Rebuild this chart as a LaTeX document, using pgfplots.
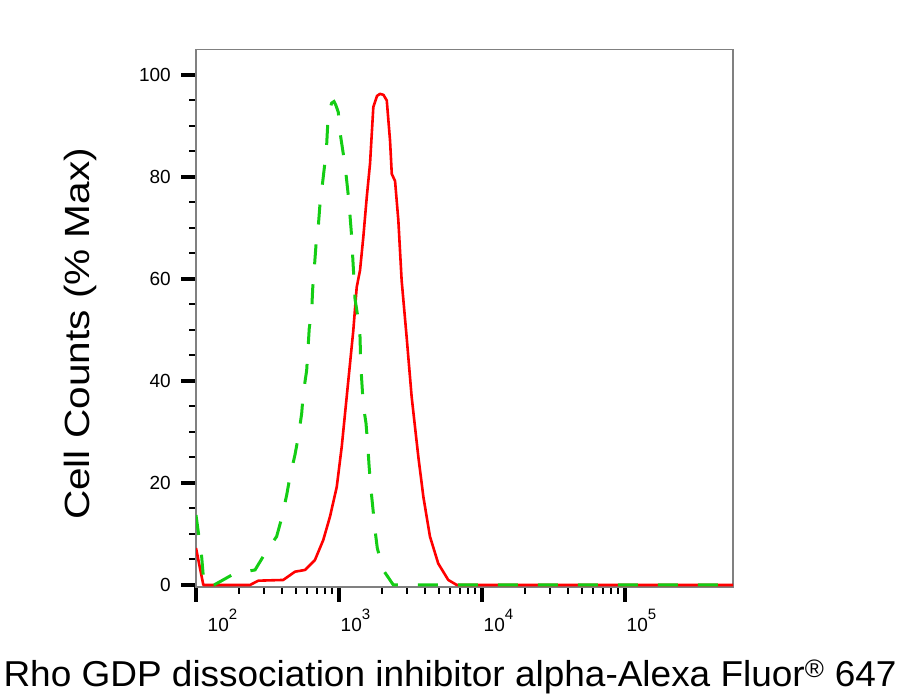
\documentclass[border=0pt]{standalone}
\usepackage{pgfplots}
\pgfplotsset{compat=1.18}
\usepackage{fontspec}
\setmainfont{Liberation Sans}
\definecolor{fgreen}{RGB}{20,205,20}
\definecolor{boxgray}{RGB}{128,128,128}
\newcommand{\myticklab}[1]{\mbox{\fontsize{19}{19}\selectfont #1}}
\newcommand{\mydecade}[1]{\mbox{\fontsize{19}{19}\selectfont 10\raisebox{12pt}{\fontsize{15}{15}\selectfont #1}}}

\begin{document}
\begin{tikzpicture}
\useasboundingbox (-196pt,-113pt) rectangle (720pt,587pt);
\begin{axis}[
    at={(0pt,0pt)}, anchor=south west,
    scale only axis,
    width=537pt, height=537.5pt,
    xmode=log,
    xmin=100, xmax=569000,
    ymin=-0.4, ymax=105,
    axis line style={draw=boxgray, line width=1.5pt},
    tick align=outside,
    xtick pos=bottom, ytick pos=left,
    xtick={100,1000,10000,100000},
    xticklabels={\hspace*{10pt}\mydecade{2},\mydecade{3},\mydecade{4},\mydecade{5}},
    ytick={0,20,40,60,80,100},
    yticklabels={\myticklab{0},\myticklab{20},\myticklab{40},\myticklab{60},\myticklab{80},\myticklab{100}},
    minor y tick num=3,
    major tick length=15pt,
    minor tick length=7pt,
    major tick style={black, line width=3.5pt},
    minor tick style={black, line width=2pt},
    xticklabel style={anchor=base west, inner sep=0pt, xshift=1.5pt, yshift=-30pt},
    yticklabel style={anchor=east, inner sep=0pt, xshift=-10pt},
    xlabel={\scalebox{1.027}[1]{Rho GDP dissociation inhibitor alpha-Alexa Fluor\textsuperscript{®} 647}},
    xlabel style={at={(axis description cs:0.473,-0.1855)}, anchor=base, inner sep=0pt, font=\fontsize{36}{36}\selectfont},
    ylabel={\scalebox{1.16}[1]{Cell Counts (\% Max)}},
    ylabel style={at={(axis description cs:-0.1974,0.471)}, anchor=base, inner sep=0pt, font=\fontsize{35}{35}\selectfont},
]

% solid red: stained sample
\addplot[red, line width=2.6pt, line join=round] coordinates {
    (100,7.24) (112.5,0) (238.8,0) (272.9,0.84) (407.4,0.98) (492,2.6)
    (578,2.94) (679,4.9) (776,8.8) (865,13.4) (964,19.2) (1045,27.1)
    (1132,36.9) (1259,49.9) (1330,58.4) (1403,61.7) (1479,68.2) (1563,76.0)
    (1648,82.6) (1738,93.7) (1845,95.9) (1936,96.3) (2046,96.1) (2158,95.0)
    (2275,87.1) (2339,80.6) (2466,79.2) (2600,71.5) (2742,59.7) (2972,48.6)
    (3221,36.9) (3589,25.1) (3890,17.3) (4325,9.5) (4943,4.2) (5808,0.98)
    (6653,0) (569000,0)
};

% dashed green: control
\addplot[fgreen, line width=3pt, dash pattern=on 20pt off 20pt] coordinates {
    (100,13.7) (109.6,5.5) (113.8,0) (133.7,0) (147.2,0.65) (187.5,2.3)
    (258.8,2.94) (304.1,6.2) (366.4,9.5) (397.2,13.1) (430.5,17.6) (453.9,21.2)
    (492,25.5) (518.8,29.0) (548.3,33.6) (562.3,37.5) (594.3,42.1) (619.4,50.3)
    (644.2,53.8) (654.6,58.1) (671.4,62.0) (690.2,66.6) (716.1,70.2) (736.2,74.7)
    (763.8,78.3) (798,82.9) (820.4,86.5) (841.4,92.4) (889.2,94.5) (922.6,94.8)
    (952.8,94.0) (988.6,92.7) (1016,88.8) (1072,84.5) (1119,80.6) (1161,76.4)
    (1194,72.4) (1227,68.2) (1247,64.3) (1274,59.7) (1294,56.1) (1365,51.9)
    (1403,48.6) (1419,43.4) (1442,40.1) (1479,35.2) (1545,31.7) (1589,27.4)
    (1622,23.5) (1667,19.2) (1722,15.3) (1786,10.8) (1853,7.2) (2042,2.9)
    (2399,0) (569000,0)
};
\end{axis}
\end{tikzpicture}
\end{document}
